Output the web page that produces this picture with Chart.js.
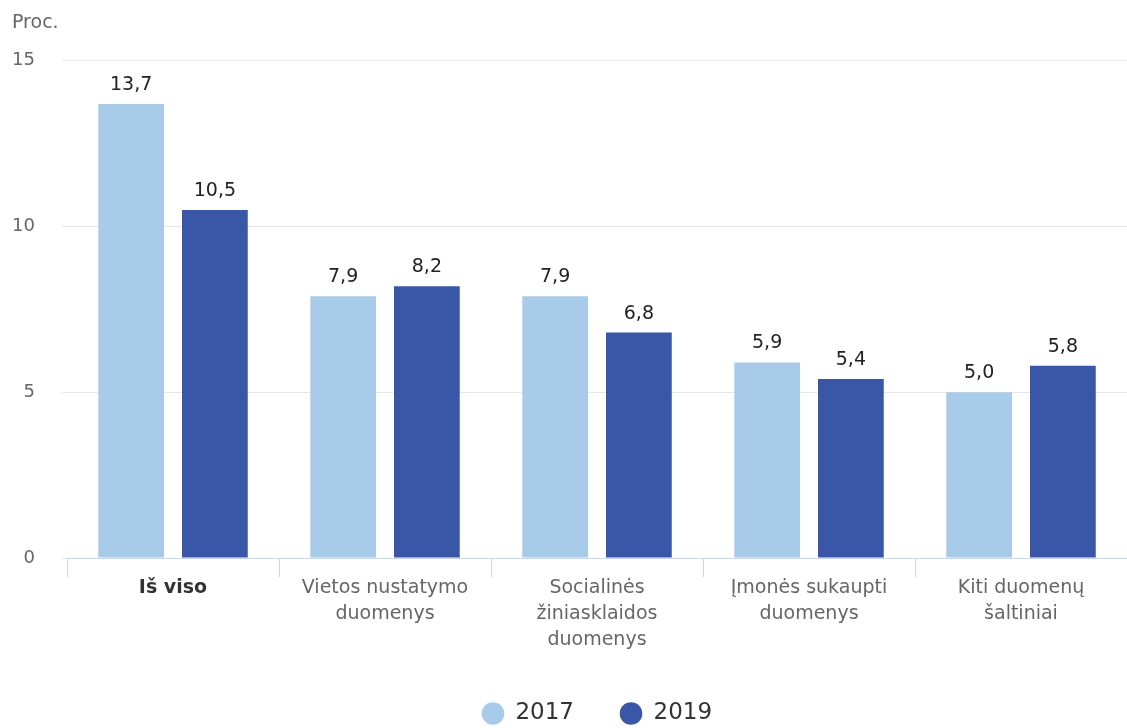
<!DOCTYPE html>
<html lang="lt">
<head>
<meta charset="utf-8">
<title>Proc.</title>
<script src="https://cdn.jsdelivr.net/npm/chart.js@4/dist/chart.umd.min.js"></script>
<style>
  html, body { margin: 0; padding: 0; background: #fff; }
  #wrap { width: 1127px; height: 728px; position: relative; }
</style>
</head>
<body>
<div id="wrap"><canvas id="chart"></canvas></div>
<script>
// Kategorijos (kelių eilučių etiketės)
const categories = [
  ['Iš viso'],
  ['Vietos nustatymo', 'duomenys'],
  ['Socialinės', 'žiniasklaidos', 'duomenys'],
  ['Įmonės sukaupti', 'duomenys'],
  ['Kiti duomenų', 'šaltiniai']
];
const years = ['2017', '2019'];
const values2017 = [13.7, 7.9, 7.9, 5.9, 5.0];
const values2019 = [10.5, 8.2, 6.8, 5.4, 5.8];
const yTicks = [0, 5, 10, 15];

const COLORS = { light: '#a8cbe9', dark: '#3a57a7' };
const FONT = 'DejaVu Sans';

// reikšmės virš stulpelių, su kableliu
const valueLabels = {
  id: 'valueLabels',
  afterDatasetsDraw(chart) {
    const ctx = chart.ctx;
    ctx.save();
    ctx.font = '19px "' + FONT + '"';
    ctx.fillStyle = '#222';
    ctx.textAlign = 'center';
    ctx.textBaseline = 'alphabetic';
    chart.data.datasets.forEach((ds, i) => {
      chart.getDatasetMeta(i).data.forEach((bar, j) => {
        const txt = ds.data[j].toFixed(1).replace('.', ',');
        ctx.fillText(txt, bar.x, bar.y - 14);
      });
    });
    ctx.restore();
  }
};

new Chart(document.getElementById('chart'), {
  type: 'bar',
  data: {
    labels: categories,
    datasets: [
      { label: years[0], data: values2017, backgroundColor: COLORS.light },
      { label: years[1], data: values2019, backgroundColor: COLORS.dark }
    ]
  },
  options: {
    responsive: true,
    maintainAspectRatio: false,
    animation: false,
    layout: { padding: { left: 12, right: 0, top: 0, bottom: 0 } },
    categoryPercentage: 0.79,
    barPercentage: 0.785,
    plugins: {
      tooltip: { enabled: false },
      title: {
        display: true,
        text: 'Proc.',
        align: 'start',
        color: '#666',
        font: { family: FONT, size: 19, weight: 'normal' },
        padding: { top: 12, bottom: 26 }
      },
      legend: {
        position: 'bottom',
        fullSize: false,
        maxHeight: 72,
        labels: {
          usePointStyle: true,
          pointStyle: 'circle',
          boxWidth: 22,
          boxHeight: 16,
          padding: 46,
          color: '#333',
          font: { family: FONT, size: 23 }
        }
      }
    },
    scales: {
      x: {
        offset: true,
        afterFit(scale) { scale.height = 98; },
        grid: {
          display: true,
          offset: true,
          drawOnChartArea: false,
          drawTicks: true,
          tickLength: 19,
          color: '#ccd6eb'
        },
        border: { display: true, color: '#ccd6eb', width: 1 },
        ticks: {
          padding: -2,
          maxRotation: 0,
          autoSkip: false,
          color: c => c.index === 0 ? '#333' : '#666',
          font: c => ({
            family: FONT,
            size: 19,
            lineHeight: 1.37,
            weight: c.index === 0 ? 'bold' : 'normal'
          })
        }
      },
      y: {
        min: yTicks[0],
        max: yTicks[yTicks.length - 1],
        afterFit(scale) { scale.width = 55; },
        afterBuildTicks(scale) { scale.ticks = yTicks.map(v => ({ value: v })); },
        grid: { color: '#e6e6e6', tickLength: 5, drawTicks: true },
        border: { display: false },
        ticks: {
          padding: 27,
          color: '#666',
          font: { family: FONT, size: 18 }
        }
      }
    }
  },
  plugins: [valueLabels]
});
</script>
</body>
</html>
